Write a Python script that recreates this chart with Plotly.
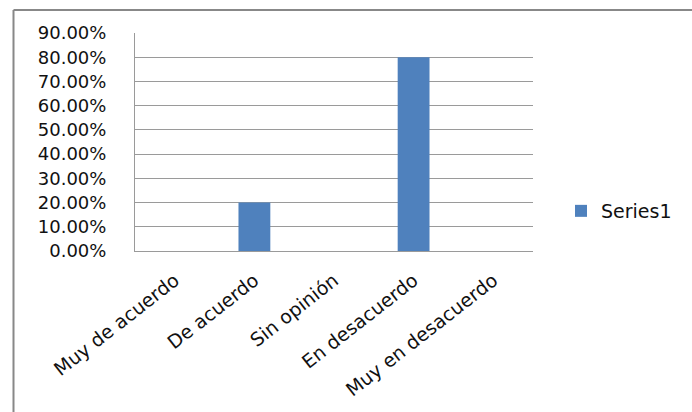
import plotly.graph_objects as go

categories = ["Muy de acuerdo", "De acuerdo", "Sin opinión", "En desacuerdo", "Muy en desacuerdo"]
values = [0.0, 0.20, 0.0, 0.80, 0.0]
series_name = "Series1"
y_ticks = [0, 0.1, 0.2, 0.3, 0.4, 0.5, 0.6, 0.7, 0.8, 0.9]

W, H = 692, 412
L, R, T, B = 135, 533, 33, 251

fig = go.Figure()
fig.add_trace(go.Bar(x=categories, y=values, name=series_name,
                     marker=dict(color="#4F81BD", line=dict(width=0))))

def px_x(p):
    return (p - L) / (R - L)

def px_y(p):
    return (B - p) / (B - T)

font = dict(family="DejaVu Sans", size=18, color="#111111")
xfont = dict(family="DejaVu Sans", size=19, color="#111111")

fig.update_layout(
    width=W, height=H,
    margin=dict(l=L, r=W - R, t=T, b=H - B, pad=0, autoexpand=False),
    paper_bgcolor="white", plot_bgcolor="white",
    bargap=0.6,
    font=font,
    showlegend=True,
    legend=dict(x=px_x(561), y=px_y(211), xanchor="left", yanchor="middle",
                font=dict(family="DejaVu Sans", size=19, color="#111111"),
                itemwidth=30, bgcolor="rgba(0,0,0,0)"),
    xaxis=dict(showgrid=False, showline=True, linecolor="#9a9a9a", linewidth=1,
               tickangle=-38, ticks="outside", ticklen=10, tickcolor="rgba(0,0,0,0)",
               tickfont=xfont, zeroline=False, automargin=False),
    yaxis=dict(range=[0, 0.9], tickvals=y_ticks, tickformat=".2%",
               showgrid=True, gridcolor="#9a9a9a", gridwidth=1,
               showline=True, linecolor="#9a9a9a", linewidth=1,
               ticks="outside", ticklen=24, tickcolor="rgba(0,0,0,0)",
               tickfont=font, zeroline=False, automargin=False),
    shapes=[
        dict(type="line", xref="paper", yref="paper",
             x0=px_x(13.5), x1=px_x(700), y0=px_y(10), y1=px_y(10),
             line=dict(color="#888888", width=2)),
        dict(type="line", xref="paper", yref="paper",
             x0=px_x(13.5), x1=px_x(13.5), y0=px_y(10), y1=px_y(420),
             line=dict(color="#888888", width=2)),
    ],
)

fig.write_html("out.html")
